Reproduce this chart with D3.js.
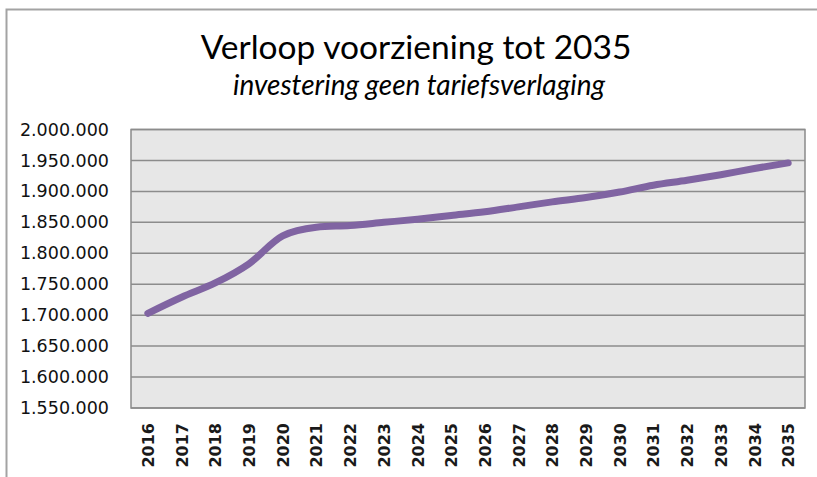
<!DOCTYPE html>
<html>
<head>
<meta charset="utf-8">
<script src="https://cdn.jsdelivr.net/npm/d3@7"></script>
<style>
  body { margin: 0; background: #fff; }
  svg { display: block; }
</style>
</head>
<body>
<svg id="chart" width="817" height="477"></svg>
<script>
// jaren op de x-as
var years = ['2016', '2017', '2018', '2019', '2020', '2021', '2022', '2023', '2024', '2025',
    '2026', '2027', '2028', '2029', '2030', '2031', '2032', '2033', '2034', '2035'];

var voorziening = [1703000, 1729000, 1752000, 1783000, 1828000, 1842000, 1845000, 1850000, 1855000, 1861000,
    1867000, 1875000, 1883000, 1890000, 1899000, 1910000, 1918000, 1927000, 1937000, 1946000];

var yTicks = [1550000, 1600000, 1650000, 1700000, 1750000, 1800000, 1850000, 1900000, 1950000, 2000000];

var title = 'Verloop voorziening tot 2035';
var subtitle = 'investering geen tariefsverlaging';

var svg = d3.select('#chart');

var plot = { left: 131, right: 805, top: 129.5, bottom: 408 };

var nl = d3.formatLocale({ decimal: ',', thousands: '.', grouping: [3], currency: ['€', ''] });
var fmt = nl.format(',d');

var xScale = d3.scalePoint()
    .domain(years)
    .range([plot.left, plot.right])
    .padding(0.5);

var yScale = d3.scaleLinear()
    .domain([yTicks[0], yTicks[yTicks.length - 1]])
    .range([plot.bottom, plot.top]);

// kader om de hele grafiek
svg.append('path')
    .attr('d', 'M6.5,477V9.5H817')
    .attr('fill', 'none')
    .attr('stroke', '#a3a3a3')
    .attr('stroke-width', 2);

// titels
svg.append('text')
    .attr('x', 416)
    .attr('y', 59)
    .attr('text-anchor', 'middle')
    .style('font-family', 'Lato, sans-serif')
    .style('font-size', '33.5px')
    .style('fill', '#000')
    .text(title);

svg.append('text')
    .attr('x', 419)
    .attr('y', 95)
    .attr('text-anchor', 'middle')
    .style('font-family', 'Lato, sans-serif')
    .style('font-style', 'italic')
    .style('font-size', '28px')
    .style('fill', '#000')
    .text(subtitle);

// plotvlak
svg.append('rect')
    .attr('x', plot.left)
    .attr('y', plot.top)
    .attr('width', plot.right - plot.left)
    .attr('height', plot.bottom - plot.top)
    .attr('fill', '#e7e7e7')
    .attr('stroke', '#8a8a8a')
    .attr('stroke-width', 1.5);

// rasterlijnen
svg.append('g')
    .attr('class', 'grid')
    .selectAll('line')
    .data(yTicks)
    .enter()
    .append('line')
    .attr('x1', plot.left)
    .attr('x2', plot.right)
    .attr('y1', function(d) { return yScale(d); })
    .attr('y2', function(d) { return yScale(d); })
    .attr('stroke', '#8c8c8c')
    .attr('stroke-width', 1.5);

// y-as
var yAxis = d3.axisLeft(yScale)
    .tickValues(yTicks)
    .tickFormat(fmt)
    .tickSize(0)
    .tickPadding(22);

var yG = svg.append('g')
    .attr('transform', 'translate(' + plot.left + ',0)')
    .call(yAxis);
yG.select('.domain').remove();
yG.selectAll('text')
    .style('font-family', '"DejaVu Sans", Verdana, sans-serif')
    .style('font-size', '17.5px')
    .style('fill', '#111');

// x-as
var xAxis = d3.axisBottom(xScale)
    .tickSize(0)
    .tickPadding(0);

var xG = svg.append('g')
    .attr('transform', 'translate(0,' + plot.bottom + ')')
    .call(xAxis);
xG.select('.domain').remove();
xG.selectAll('text')
    .attr('transform', 'rotate(-90)')
    .attr('x', -15)
    .attr('y', 0)
    .attr('dy', '0.35em')
    .attr('text-anchor', 'end')
    .style('font-family', '"DejaVu Sans", Verdana, sans-serif')
    .style('font-weight', 'bold')
    .style('font-size', '16px')
    .style('fill', '#1a1a1a');

// lijn
var line = d3.line()
    .x(function(d, i) { return xScale(years[i]); })
    .y(function(d) { return yScale(d); })
    .curve(d3.curveMonotoneX);

svg.append('path')
    .datum(voorziening)
    .attr('d', line)
    .attr('fill', 'none')
    .attr('stroke', '#8064a2')
    .attr('stroke-width', 7)
    .attr('stroke-linecap', 'round')
    .attr('stroke-linejoin', 'round');
</script>
</body>
</html>
